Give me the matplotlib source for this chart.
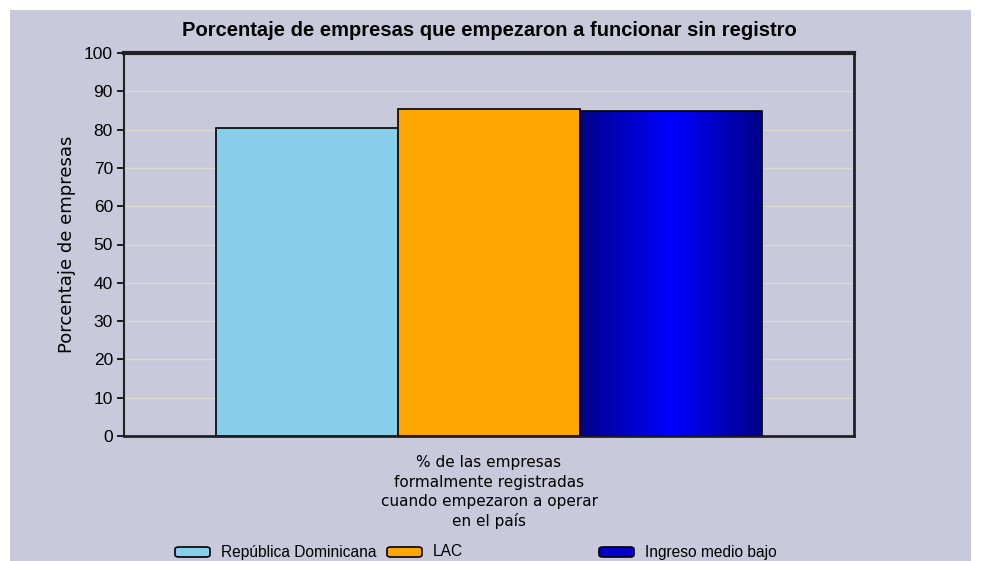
import matplotlib
matplotlib.use('Agg')

import numpy as np
import matplotlib.pyplot as plt
from matplotlib.patches import Rectangle, FancyBboxPatch
from matplotlib.colors import LinearSegmentedColormap

# -------------------------
# Data
# -------------------------
category = '% de las empresas\nformalmente registradas\ncuando empezaron a operar\nen el país'
series = ['República Dominicana', 'LAC', 'Ingreso medio bajo']
values = [80.3, 85.3, 84.8]
colors = ['#87ceeb', '#ffa500', '#0000ff']
yticks = list(range(0, 101, 10))

title = 'Porcentaje de empresas que empezaron a funcionar sin registro'
ylabel = 'Porcentaje de empresas'

bg = '#c9c9dc'
plt.rcParams['font.family'] = ['Liberation Sans', 'DejaVu Sans']

W, H = 981, 561
fig = plt.figure(figsize=(W / 100, H / 100), dpi=100, facecolor='white')

# lavender panel behind everything
fig.patches.append(Rectangle((10 / W, 0), 961 / W, 551 / H,
                             transform=fig.transFigure, facecolor=bg,
                             edgecolor='none', zorder=-10))

ax = fig.add_axes([124 / W, 1 - 436 / H, 730 / W, 383 / H])
ax.set_facecolor(bg)

# -------------------------
# Bars
# -------------------------
w = 0.2489
xpos = [(k - 1) * w for k in range(len(series))]
bars = ax.bar(xpos, values, width=w, color=colors, edgecolor='black',
              linewidth=1.2, zorder=3)

# horizontal gradient for the last bar
grad = LinearSegmentedColormap.from_list('g', ['#000088', '#0000ff', '#000088'])
b = bars[-1]
b.set_facecolor('none')
ax.imshow(np.linspace(0, 1, 256)[None, :], cmap=grad, aspect='auto',
          extent=[b.get_x(), b.get_x() + b.get_width(), 0, b.get_height()],
          zorder=2, interpolation='bilinear')

ax.set_xlim(-0.5, 0.5)
ax.set_ylim(0, 100)

# -------------------------
# Axes styling
# -------------------------
ax.set_yticks(yticks)
ax.yaxis.grid(True, color='#dcdcd2', linewidth=1, zorder=0)
ax.set_axisbelow(True)
ax.tick_params(axis='y', direction='out', length=5, width=1.2,
               labelsize=12.5, pad=3, colors='black')
ax.set_xticks([0])
ax.set_xticklabels([category], fontsize=11, linespacing=1.35,
                   family=['DejaVu Sans'])
ax.tick_params(axis='x', length=0, pad=14)
for side, lw in [('top', 3), ('right', 2), ('left', 1.5), ('bottom', 2)]:
    ax.spines[side].set_linewidth(lw)
    ax.spines[side].set_color('#222222')

ax.set_ylabel(ylabel, fontsize=13, family=['DejaVu Sans'], labelpad=6)

fig.text(489 / W, 1 - 30 / H, title, ha='center', va='center',
         fontsize=14.5, fontweight='bold')

# -------------------------
# Legend (manual, uneven spacing as in the original)
# -------------------------
leg_x = [175, 387, 599]
leg_y = 552
for xs, name, c in zip(leg_x, series, colors):
    fc = '#0000cc' if c == '#0000ff' else c
    fig.patches.append(FancyBboxPatch((xs / W, 1 - (leg_y + 5) / H),
                                      35 / W, 10 / H,
                                      boxstyle='round,pad=0,rounding_size=0.004',
                                      transform=fig.transFigure,
                                      facecolor=fc, edgecolor='black',
                                      linewidth=1.2))
    fig.text((xs + 46) / W, 1 - leg_y / H, name, ha='left', va='center',
             fontsize=11.2)

fig.savefig('out.png', dpi=100, facecolor=fig.get_facecolor())
